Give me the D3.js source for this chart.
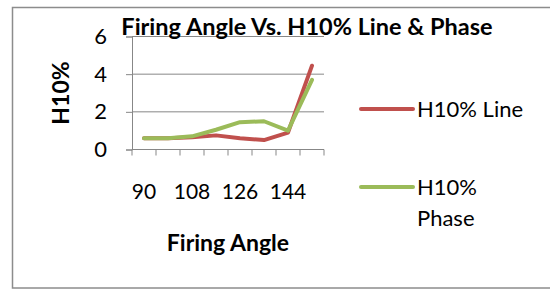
<!DOCTYPE html>
<html>
<head>
<meta charset="utf-8">
<script src="https://cdn.jsdelivr.net/npm/d3@7"></script>
<style>
  body { margin: 0; background: #fff; }
  svg { display: block; font-family: Lato, "Open Sans", sans-serif; }
</style>
</head>
<body>
<svg id="chart" width="550" height="289"></svg>
<script>
// chart data
const categories = [90, 99, 108, 117, 126, 135, 144, 153];
const lineValues = [0.6, 0.6, 0.65, 0.75, 0.6, 0.5, 0.9, 4.45];
const phaseValues = [0.6, 0.6, 0.7, 1.05, 1.45, 1.5, 1.0, 3.7];
const yTicks = [0, 2, 4, 6];
const seriesNames = ["H10% Line", "H10% Phase"];

const svg = d3.select("#chart");
const colors = ["#c0504d", "#9bbb59"];

// outer frame
svg.append("rect")
  .attr("x", 12.5).attr("y", 7.5)
  .attr("width", 560).attr("height", 280.5)
  .attr("fill", "none")
  .attr("stroke", "#8c8c8c")
  .attr("stroke-width", 1.5);

// scales
const x = d3.scaleBand()
  .domain(categories)
  .range([132, 324])
  .padding(0);
const y = d3.scaleLinear()
  .domain([0, 6])
  .range([149.5, 36.5]);
const cx = d => x(d) + x.bandwidth() / 2;

// gridlines
svg.append("g")
  .selectAll("line")
  .data(yTicks.filter(t => t > 0))
  .join("line")
    .attr("x1", 132).attr("x2", 324)
    .attr("y1", d => y(d)).attr("y2", d => y(d))
    .attr("stroke", "#878787")
    .attr("stroke-width", 1);

// y axis
const yAxis = d3.axisLeft(y).tickValues(yTicks).tickFormat(d3.format("d")).tickSize(6).tickPadding(19);
const gy = svg.append("g").attr("transform", "translate(132,0)").call(yAxis);
gy.select(".domain").attr("stroke", "#878787");
gy.selectAll(".tick line").attr("stroke", "#878787");
gy.selectAll("text")
  .attr("font-size", 22)
  .attr("font-family", "Lato, sans-serif")
  .attr("fill", "#000");

// x axis: ticks sit at category boundaries
const boundaries = categories.map(c => x(c)).concat([x.range()[1]]);
svg.append("line")
  .attr("x1", 132).attr("x2", 324)
  .attr("y1", y(0)).attr("y2", y(0))
  .attr("stroke", "#878787");
svg.append("g")
  .selectAll("line")
  .data(boundaries)
  .join("line")
    .attr("x1", d => d).attr("x2", d => d)
    .attr("y1", y(0)).attr("y2", y(0) + 6)
    .attr("stroke", "#878787");
svg.append("g")
  .selectAll("text")
  .data(categories.filter((c, i) => i % 2 === 0))
  .join("text")
    .attr("x", d => cx(d))
    .attr("y", 192)
    .attr("dy", "0.35em")
    .attr("text-anchor", "middle")
    .attr("font-size", 21)
    .text(d => d);

// lines
const line = d3.line()
  .x((d, i) => cx(categories[i]))
  .y(d => y(d));
[lineValues, phaseValues].forEach((vals, k) => {
  svg.append("path")
    .datum(vals)
    .attr("d", line)
    .attr("fill", "none")
    .attr("stroke", colors[k])
    .attr("stroke-width", 4)
    .attr("stroke-linejoin", "round")
    .attr("stroke-linecap", "round");
});

// titles
svg.append("text")
  .attr("x", 307).attr("y", 35)
  .attr("text-anchor", "middle")
  .attr("font-size", 23.5)
  .attr("font-weight", "bold")
  .text("Firing Angle Vs. H10% Line & Phase");
svg.append("text")
  .attr("x", 228).attr("y", 243)
  .attr("dy", "0.35em")
  .attr("text-anchor", "middle")
  .attr("font-size", 23)
  .attr("font-weight", "bold")
  .text("Firing Angle");
svg.append("text")
  .attr("transform", "translate(61,93) rotate(-90)")
  .attr("dy", "0.35em")
  .attr("text-anchor", "middle")
  .attr("font-size", 23)
  .attr("font-weight", "bold")
  .text("H10%");

// legend
const legendY = [109, 187];
seriesNames.forEach((name, k) => {
  const g = svg.append("g");
  g.append("line")
    .attr("x1", 361).attr("x2", 413)
    .attr("y1", legendY[k]).attr("y2", legendY[k])
    .attr("stroke", colors[k])
    .attr("stroke-width", 4)
    .attr("stroke-linecap", "round");
  const words = k === 0 ? [name] : name.split(" ");
  words.forEach((w, j) => {
    g.append("text")
      .attr("x", 417)
      .attr("y", legendY[k] + j * 31)
      .attr("dy", "0.35em")
      .attr("font-size", 22)
      .text(w);
  });
});
</script>
</body>
</html>
